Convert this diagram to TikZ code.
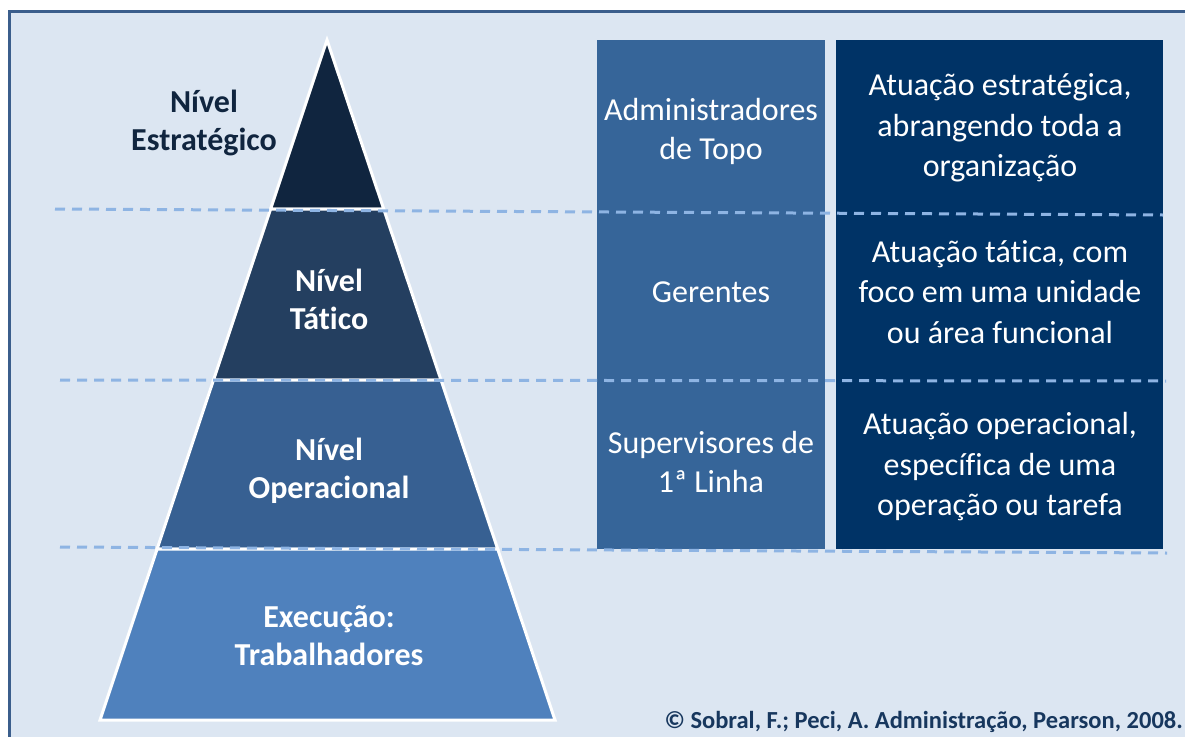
\documentclass[tikz,border=0pt]{standalone}
\usepackage{fontspec}
\setmainfont{Carlito}[Ligatures={NoCommon}]
\definecolor{bg}{HTML}{DCE6F2}
\definecolor{framec}{HTML}{3B5E8C}
\definecolor{segA}{HTML}{10253F}
\definecolor{segB}{HTML}{243F60}
\definecolor{segC}{HTML}{376092}
\definecolor{segD}{HTML}{4F81BD}
\definecolor{colA}{HTML}{366599}
\definecolor{colB}{HTML}{003366}
\definecolor{dashc}{HTML}{8EB4E3}
\definecolor{navytext}{HTML}{17375E}
\begin{document}
\begin{tikzpicture}[x=1pt,y=-1pt,
  seg/.style={draw=white,line width=3pt,line join=miter},
  lvl/.style={align=center,font=\fontsize{32}{38}\selectfont\bfseries,inner sep=0pt},
  coltxt/.style={align=center,text=white,font=\fontsize{32}{39}\selectfont,inner sep=0pt},
  desctxt/.style={align=center,text=white,font=\fontsize{32}{40.5}\selectfont,inner sep=0pt},
  sep/.style={draw=dashc,line width=3pt,dash pattern=on 10pt off 7pt}]
\useasboundingbox (0,0) rectangle (1185,736);
\clip (0,0) rectangle (1185,736);
\fill[white] (0,0) rectangle (1185,736);
\draw[framec,line width=3pt,fill=bg] (9,11) rectangle (1210,770);
% pyramid
\path[seg,fill=segA] (327,40) -- (383.7,209) -- (270.6,209) -- cycle;
\path[seg,fill=segB] (270.6,209) -- (383.7,209) -- (441,380) -- (213.5,380) -- cycle;
\path[seg,fill=segC] (213.5,380) -- (441,380) -- (497.7,549) -- (157.1,549) -- cycle;
\path[seg,fill=segD] (157.1,549) -- (497.7,549) -- (555,720) -- (100,720) -- cycle;
% columns
\fill[colA] (597,40) rectangle (825,549);
\fill[colB] (836,40) rectangle (1163,549);
% pyramid labels
\node[lvl,text=segA] (estr) at (204,123) {Nível\\Estratégico};
\node[lvl,text=white] (tat) at (329,299) {Nível\\Tático};
\node[lvl,text=white] (oper) at (329,471) {Nível\\Operacional};
\node[lvl,text=white] (exec) at (329,636) {Execução:\\Trabalhadores};
% column texts
\node[coltxt] (topo) at (711,131) {Administradores\\de Topo};
\node[coltxt] (ger) at (711,292) {Gerentes};
\node[coltxt] (sup) at (711,462) {Supervisores de\\1ª Linha};
\node[desctxt] (d1) at (1000,128) {Atuação estratégica,\\abrangendo toda a\\organização};
\node[desctxt] (d2) at (1000,292) {Atuação tática, com\\foco em uma unidade\\ou área funcional};
\node[desctxt] (d3) at (1000,467) {Atuação operacional,\\específica de uma\\operação ou tarefa};
% dashed separators
\coordinate (s1a) at (55,209); \coordinate (s1b) at (1163,215);
\coordinate (s2a) at (60,380); \coordinate (s2b) at (1166,381);
\coordinate (s3a) at (60,547); \coordinate (s3b) at (1167,553);
\draw[sep] (s1a) -- (s1b);
\draw[sep] (s2a) -- (s2b);
\draw[sep] (s3a) -- (s3b);
% credit
\node[anchor=east,text=navytext,font=\fontsize{24.5}{28}\selectfont\bfseries,inner sep=0pt] (credit) at (1183,722) {© Sobral, F.; Peci, A. Administração, Pearson, 2008.};
\end{tikzpicture}
\end{document}
